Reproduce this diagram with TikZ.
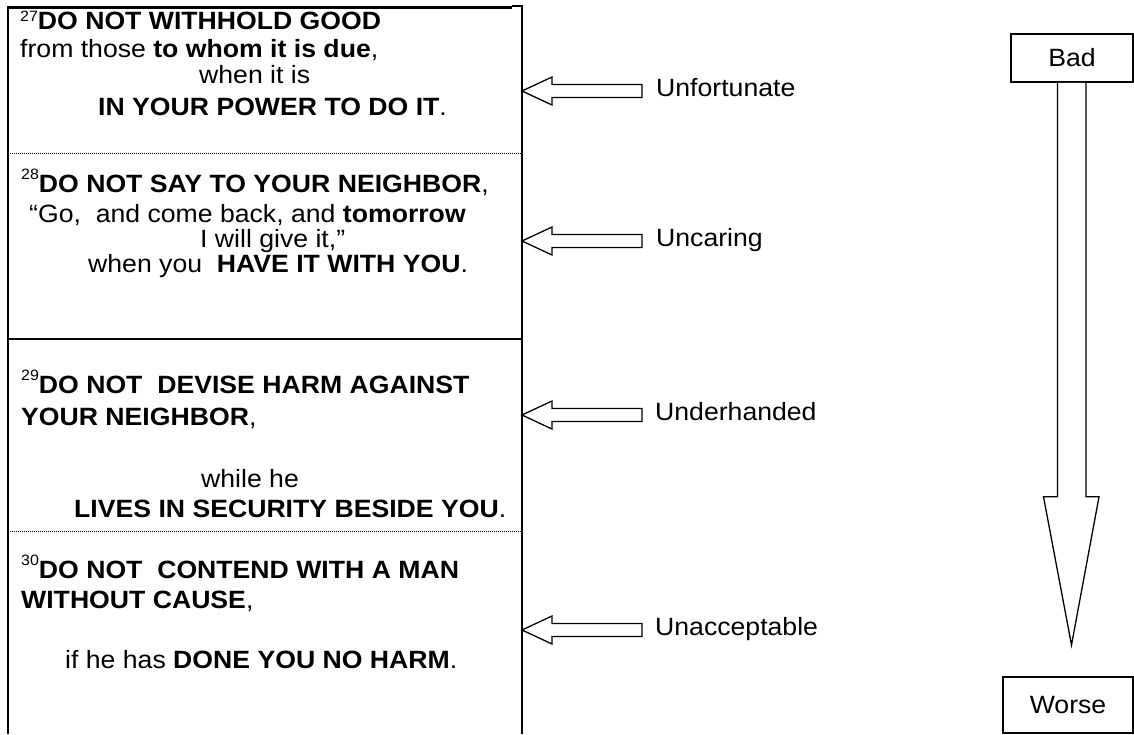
\documentclass[tikz,border=0pt]{standalone}
\usepackage{fontspec}
\setmainfont{Liberation Sans}[FakeStretch=1.065]
\usetikzlibrary{calc}

% verse number, set small and raised by #1
\newcommand\vnum[2][13pt]{\raisebox{#1}{\fontsize{15}{15}\selectfont #2}}

\begin{document}
\begin{tikzpicture}[x=1pt,y=-1pt,
  verse/.style={anchor=base west, inner sep=0pt, font=\fontsize{25}{27}\selectfont},
  tag/.style={anchor=base west, inner sep=0pt, font=\fontsize{25}{27}\selectfont},
  frame/.style={line width=2pt},
  divider/.style={line width=1pt, dash pattern=on 1pt off 1pt},
  arrowline/.style={line width=1.3pt, fill=white, line join=miter},
  endbox/.style={draw, line width=1.5pt, inner sep=0pt, font=\fontsize{25}{27}\selectfont},
  leftblock/.pic={\draw[arrowline] (0,0) -- (30,-14) -- (30,-6.5) -- (120,-6.5)
                   -- (120,6.5) -- (30,6.5) -- (30,14) -- cycle;}
]
\useasboundingbox (0,0) rectangle (1134,734);

% ---- frame of the verse column ----
\coordinate (tl) at (8,6);
\coordinate (tr) at (522,6);
\coordinate (bl) at (8,734);
\coordinate (br) at (522,734);
\draw[line width=3pt] (7,7.5) -- (512,7.5);
\draw[frame] (512,6) -- (tr) -- (br);
\draw[frame] (tl) -- (bl);
\draw[frame] (8,339) -- (522,339);
\draw[divider] (8,153) -- (522,153);
\draw[divider] (8,531) -- (522,531);

% ---- verse 27 ----
\node[verse] (v27a) at (20,29)  {\vnum[8pt]{27}\textbf{DO NOT WITHHOLD GOOD}};
\node[verse] (v27b) at (20,57)  {from those \textbf{to whom it is due},};
\node[verse] (v27c) at (199,83) {when it is};
\node[verse] (v27d) at (98,115) {\textbf{IN YOUR POWER TO DO IT}.};

% ---- verse 28 ----
\node[verse] (v28a) at (21,192) {\vnum{28}\textbf{DO NOT SAY TO YOUR NEIGHBOR},};
\node[verse] (v28b) at (29,222) {“Go,\ \ and come back, and \textbf{tomorrow}};
\node[verse] (v28c) at (200,247) {I will give it,”};
\node[verse] (v28d) at (88,272) {when you\ \ \textbf{HAVE IT WITH YOU}.};

% ---- verse 29 ----
\node[verse] (v29a) at (21,393) {\vnum{29}\textbf{DO NOT\ \ DEVISE HARM AGAINST}};
\node[verse] (v29b) at (21,425) {\textbf{YOUR NEIGHBOR},};
\node[verse] (v29c) at (201,487) {while he};
\node[verse] (v29d) at (74,517) {\textbf{LIVES IN SECURITY BESIDE YOU}.};

% ---- verse 30 ----
\node[verse] (v30a) at (21,578) {\vnum{30}\textbf{DO NOT\ \ CONTEND WITH A MAN}};
\node[verse] (v30b) at (21,608) {\textbf{WITHOUT CAUSE},};
\node[verse] (v30c) at (65,668) {if he has \textbf{DONE YOU NO HARM}.};

% ---- block arrows pointing at the column, with their labels ----
\coordinate (a1) at (522,91);
\coordinate (a2) at (522,241);
\coordinate (a3) at (522,415);
\coordinate (a4) at (522,630);
\pic at (a1) {leftblock};
\pic at (a2) {leftblock};
\pic at (a3) {leftblock};
\pic at (a4) {leftblock};
\node[tag] (t1) at ($(a1)+(134,5)$) {Unfortunate};
\node[tag] (t2) at ($(a2)+(134,5)$) {Uncaring};
\node[tag] (t3) at ($(a3)+(133,5)$) {Underhanded};
\node[tag] (t4) at ($(a4)+(133,5)$) {Unacceptable};

% ---- scale from bad to worse ----
\node[endbox, minimum width=122pt, minimum height=48pt] (bad) at (1072,58) {Bad};
\node[endbox, minimum width=130pt, minimum height=56pt] (worse) at (1068,705) {Worse};
\coordinate (dtip) at (1071.5,645);
\draw[arrowline] ($(bad.south)+(-14.5,0)$) -- ++(0,414) -- ++(-14,0) -- (dtip)
  -- ($(bad.south)+(27,414)$) -- ++(-13,0) -- ($(bad.south)+(14,0)$);
\end{tikzpicture}
\end{document}
